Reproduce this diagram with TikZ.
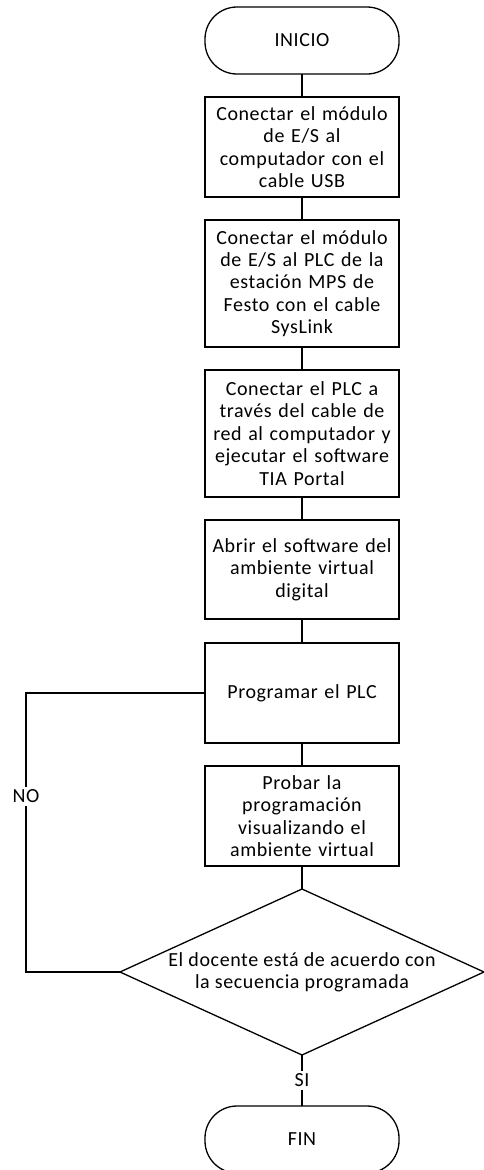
\documentclass[tikz,border=0pt]{standalone}
\usepackage{fontspec}
\setmainfont{Carlito}[LetterSpace=3]
\usetikzlibrary{positioning,shapes.geometric}
\tikzset{
	base/.style={draw, line width=1.3pt, font=\fontsize{20}{22.4}\selectfont, align=center, inner sep=0pt, outer sep=0pt},
	terminal/.style={base, rectangle, rounded corners=32pt, minimum width=194pt, minimum height=67pt},
	process/.style={base, rectangle, minimum width=194pt, text width=192pt},
	decision/.style={base, diamond, minimum width=364pt, minimum height=166pt},
	flow/.style={line width=1.3pt},
	lbl/.style={fill=white, inner sep=3pt, font=\fontsize{20}{22.4}\selectfont}
}
\begin{document}
\begin{tikzpicture}[x=1pt, y=-1pt, node distance=23pt]
	\useasboundingbox (0,0) rectangle (483,1170);
	\node[terminal] (ini) at (302,40.5) {INICIO};
	\node[process, minimum height=100pt, below=of ini] (b1) {Conectar el módulo\\de E/S al\\computador con el\\cable USB};
	\node[process, minimum height=127pt, below=of b1] (b2) {Conectar el módulo\\de E/S al PLC de la\\estación MPS de\\Festo con el cable\\SysLink};
	\node[process, minimum height=127pt, below=of b2] (b3) {Conectar el PLC a\\través del cable de\\red al computador y\\ejecutar el software\\TIA Portal};
	\node[process, minimum height=99pt, below=of b3] (b4) {Abrir el software del\\ambiente virtual\\digital};
	\node[process, minimum height=100pt, below=24pt of b4] (b5) {Programar el PLC};
	\node[process, minimum height=100pt, below=of b5] (b6) {Probar la\\programación\\visualizando el\\ambiente virtual};
	\node[decision, below=of b6, label={[font=\fontsize{20}{22.4}\selectfont, align=center]center:El docente está de acuerdo con\\la secuencia programada}] (dec) {};
	\node[terminal, below=51pt of dec] (fin) {FIN};
	\coordinate (back) at ([xshift=-94pt]dec.west);
	\draw[flow] (ini) -- (b1);
	\draw[flow] (b1) -- (b2);
	\draw[flow] (b2) -- (b3);
	\draw[flow] (b3) -- (b4);
	\draw[flow] (b4) -- (b5);
	\draw[flow] (b5) -- (b6);
	\draw[flow] (b6) -- (dec);
	\draw[flow] (dec) -- node[lbl] {SI} (fin);
	\draw[flow] (dec.west) -- (back) |- node[lbl, pos=0.315] {NO} (b5.west);
\end{tikzpicture}
\end{document}
